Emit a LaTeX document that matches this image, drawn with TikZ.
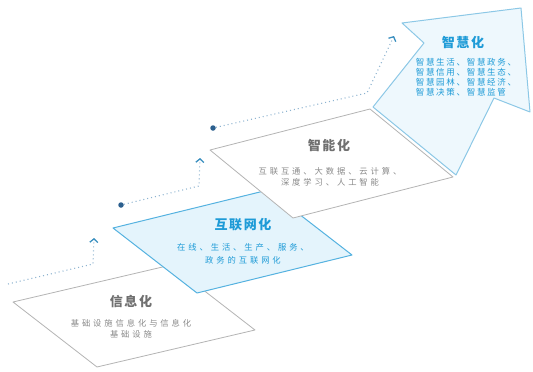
\documentclass[tikz,border=0pt]{standalone}
\usepackage{fontspec}
\usetikzlibrary{arrows.meta}
\newfontfamily\cjk[LetterSpace=35]{Noto Sans CJK SC}
\newfontfamily\cjka[LetterSpace=20]{Noto Sans CJK SC}
\newfontfamily\cjkt[LetterSpace=12]{Noto Sans CJK SC}
\definecolor{txtg}{HTML}{8A8A8A}
\definecolor{ttlg}{HTML}{707070}
\definecolor{blu}{HTML}{1E9BD7}
\definecolor{bordb}{HTML}{55B2E0}
\definecolor{fillb}{HTML}{E4F4FC}
\definecolor{filla}{HTML}{EEF8FD}
\definecolor{borda}{HTML}{8CC8E6}
\definecolor{bordg}{HTML}{B4B4B4}
\definecolor{dotc}{HTML}{8DB3D0}
\definecolor{dotn}{HTML}{2B5F8E}
\definecolor{caretc}{HTML}{3A8FBF}
\begin{document}
\begin{tikzpicture}[x=1pt,y=-1pt,
  panelg/.style={draw=bordg, line width=0.8pt, fill=white, line join=round},
  panelb/.style={draw=bordb, line width=1pt, fill=fillb, line join=round},
  panela/.style={draw=borda, line width=1pt, fill=filla, line join=round},
  dotline/.style={draw=dotc, line width=1.1pt, dash pattern=on 1pt off 3pt,
    -{Straight Barb[length=3.5pt,width=8pt,line width=1.3pt,color=caretc]}},
  dotnode/.style={circle, fill=dotn, inner sep=0pt, minimum size=5.5pt},
  ttlgray/.style={font=\cjkt\bfseries\fontsize{13}{15}\selectfont, text=ttlg, inner sep=0pt},
  ttlblue/.style={font=\cjkt\bfseries\fontsize{13}{15}\selectfont, text=blu, inner sep=0pt},
  bodygray/.style={font=\cjk\fontsize{8.3}{11.5}\selectfont, text=txtg, align=center, inner sep=0pt},
  bodyblue/.style={font=\cjk\fontsize{8.3}{12.5}\selectfont, text=blu, align=center, inner sep=0pt},
  bodyarrow/.style={font=\cjka\fontsize{8.5}{10}\selectfont, text=blu, align=left, inner sep=0pt}
]
\useasboundingbox (0,0) rectangle (533,372);

% connectors (behind panels)
\coordinate (s1) at (8,284);
\coordinate (k1) at (93,264);
\coordinate (e1) at (94,238);
\draw[dotline] (s1) -- (k1) -- (e1);

\node[dotnode] (d2) at (121,205) {};
\coordinate (k2) at (199,186);
\coordinate (e2) at (200,158);
\draw[dotline] (d2) -- (k2) -- (e2);

\node[dotnode] (d3) at (213,128) {};
\coordinate (k3) at (367,93);
\coordinate (e3) at (394,36);
\draw[dotline] (d3) -- (k3) -- (e3);

% panel 1
\draw[panelg] (13,302) -- (97,367) -- (255,330) -- (171,265) -- cycle;
% panel 2
\draw[panelb] (113,228) -- (197,293) -- (352,255) -- (268,190) -- cycle;
% panel 3
\draw[panelg] (210,150) -- (293,218) -- (453,177) -- (370,109) -- cycle;
% arrow
\draw[panela] (373,107) -- (424,43) -- (402,23) -- (521,8) -- (530,112) -- (494,98) -- (456,175) -- cycle;

% texts
\node[ttlgray] (t1) at (131,302) {信息化};
\node[bodygray] (b1) at (131,329) {基础设施信息化与信息化\\基础设施};

\node[ttlblue] (t2) at (243,225) {互联网化};
\node[bodyblue] (b2) at (243,254) {在线、生活、生产、服务、\\政务的互联网化};

\node[ttlgray] (t3) at (329,145) {智能化};
\node[bodygray] (b3) at (330,177) {互联互通、大数据、云计算、\\深度学习、人工智能};

\node[ttlblue] (t4) at (463,43) {智慧化};
\node[bodyarrow] (b4) at (466,77) {智慧生活、智慧政务、\\智慧信用、智慧生态、\\智慧园林、智慧经济、\\智慧决策、智慧监管};
\end{tikzpicture}
\end{document}
